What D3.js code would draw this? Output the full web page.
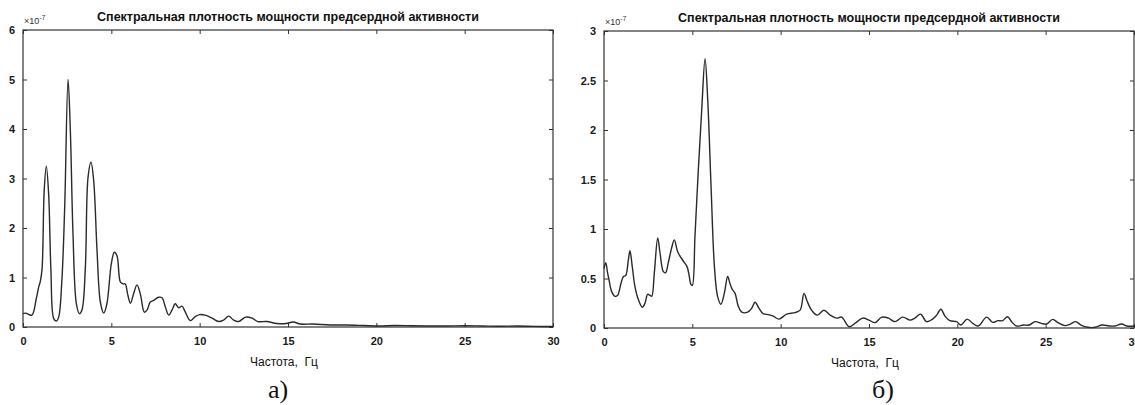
<!DOCTYPE html>
<html>
<head>
<meta charset="utf-8">
<script src="https://cdn.jsdelivr.net/npm/d3@7"></script>
<style>
  body { margin: 0; background: #fff; overflow: hidden; }
</style>
</head>
<body>
<div class="canva"></div>
<script>
// left spectrum (а)
const leftFreq = [0, 0.15, 0.5, 0.75, 0.89, 0.98, 1.08, 1.2, 1.32, 1.45, 1.58, 1.74, 1.89, 2.02, 2.2, 2.36, 2.55, 2.68, 2.83, 3.02, 3.19, 3.34, 3.53, 3.68, 3.85, 4.0, 4.19, 4.38, 4.57, 4.75, 5.0, 5.17, 5.32, 5.51, 5.66, 5.79, 5.92, 6.08, 6.26, 6.45, 6.64, 6.87, 7.02, 7.2, 7.4, 7.68, 7.87, 8.06, 8.25, 8.43, 8.62, 8.81, 9.0, 9.19, 9.47, 9.75, 10.0, 10.3, 10.7, 11.07, 11.35, 11.64, 11.92, 12.2, 12.6, 12.96, 13.3, 13.8, 14.37, 14.9, 15.3, 15.7, 16.4, 17.4, 18.3, 19.3, 20.2, 21.0, 22.0, 23.0, 24.0, 25.0, 26.0, 27.0, 28.0, 29.0, 30.0];
const leftPower = [0.27, 0.28, 0.24, 0.57, 0.81, 0.92, 1.18, 2.76, 3.25, 2.7, 1.15, 0.17, 0.12, 0.2, 0.94, 2.42, 5.0, 3.97, 1.88, 0.47, 0.27, 0.35, 1.21, 3.02, 3.33, 2.96, 1.55, 0.5, 0.28, 0.47, 1.28, 1.51, 1.44, 0.91, 0.87, 0.87, 0.67, 0.48, 0.67, 0.85, 0.67, 0.3, 0.34, 0.5, 0.54, 0.6, 0.59, 0.4, 0.24, 0.34, 0.47, 0.39, 0.42, 0.3, 0.13, 0.21, 0.25, 0.24, 0.18, 0.11, 0.14, 0.22, 0.14, 0.11, 0.2, 0.18, 0.11, 0.11, 0.07, 0.07, 0.1, 0.06, 0.06, 0.04, 0.04, 0.03, 0.02, 0.03, 0.025, 0.02, 0.02, 0.025, 0.02, 0.015, 0.02, 0.012, 0.01];

// right spectrum (б)
const rightFreq = [0, 0.1, 0.2, 0.28, 0.43, 0.62, 0.77, 0.96, 1.1, 1.23, 1.38, 1.47, 1.6, 1.75, 1.94, 2.17, 2.32, 2.47, 2.6, 2.7, 2.85, 3.04, 3.17, 3.36, 3.49, 3.64, 3.83, 3.98, 4.17, 4.36, 4.55, 4.7, 4.81, 4.92, 5.0, 5.15, 5.34, 5.53, 5.72, 5.87, 6.06, 6.25, 6.43, 6.62, 6.81, 7.0, 7.13, 7.26, 7.42, 7.6, 7.8, 8.13, 8.36, 8.55, 8.77, 9.0, 9.3, 9.58, 9.9, 10.34, 10.81, 11.1, 11.32, 11.5, 11.75, 12.07, 12.45, 12.8, 13.17, 13.45, 13.88, 14.26, 14.64, 15.0, 15.34, 15.72, 16.1, 16.47, 16.9, 17.33, 17.6, 17.92, 18.26, 18.6, 18.83, 19.07, 19.3, 19.58, 19.96, 20.2, 20.56, 20.87, 21.18, 21.66, 22.0, 22.3, 22.56, 22.84, 23.07, 23.35, 23.73, 24.07, 24.4, 24.77, 25.05, 25.4, 25.7, 26.1, 26.4, 26.7, 27.0, 27.4, 27.8, 28.2, 28.6, 28.9, 29.3, 29.6, 30.0];
const rightPower = [0.6, 0.66, 0.56, 0.49, 0.37, 0.32, 0.33, 0.45, 0.52, 0.53, 0.69, 0.78, 0.62, 0.42, 0.29, 0.21, 0.25, 0.34, 0.33, 0.32, 0.56, 0.91, 0.76, 0.57, 0.56, 0.66, 0.81, 0.89, 0.77, 0.71, 0.66, 0.62, 0.54, 0.44, 0.43, 0.93, 1.6, 2.2, 2.72, 2.31, 1.43, 0.62, 0.32, 0.24, 0.35, 0.52, 0.45, 0.39, 0.35, 0.22, 0.16, 0.16, 0.2, 0.26, 0.2, 0.145, 0.135, 0.12, 0.09, 0.14, 0.155, 0.18, 0.35, 0.27, 0.18, 0.13, 0.18, 0.13, 0.1, 0.11, 0.013, 0.054, 0.1, 0.08, 0.054, 0.11, 0.1, 0.064, 0.11, 0.08, 0.1, 0.14, 0.064, 0.09, 0.13, 0.19, 0.12, 0.074, 0.064, 0.03, 0.09, 0.047, 0.02, 0.11, 0.057, 0.074, 0.074, 0.114, 0.064, 0.02, 0.03, 0.03, 0.064, 0.047, 0.04, 0.087, 0.054, 0.024, 0.04, 0.064, 0.03, 0.007, 0.007, 0.03, 0.02, 0.02, 0.04, 0.02, 0.02];

const xTicks = [0, 5, 10, 15, 20, 25, 30];
const leftYTicks = [0, 1, 2, 3, 4, 5, 6];
const rightYTicks = [0, 0.5, 1, 1.5, 2, 2.5, 3];
const chartTitle = "Спектральная плотность мощности предсердной активности";
const xTitle = "Частота,  Гц";

const svg = d3.select(".canva").append("svg")
            .attr("width", 1135)
            .attr("height", 405);

function drawPanel(opt) {
  const w = opt.right - opt.left;
  const h = opt.bottom - opt.top;
  const g = svg.append("g").attr("transform", `translate(${opt.left}, ${opt.top})`);

  const x = d3.scaleLinear().domain([0, 30]).range([0, w]);
  const y = d3.scaleLinear().domain([0, opt.yMax]).range([h, 0]);

  // axes with inward ticks, all four sides
  g.append("g")
   .attr("transform", `translate(0, ${h})`)
   .call(d3.axisBottom(x).tickValues(xTicks).tickSizeInner(-4).tickSizeOuter(0).tickPadding(10).tickFormat(d3.format("d")));
  g.append("g")
   .call(d3.axisTop(x).tickValues(xTicks).tickSizeInner(-4).tickSizeOuter(0).tickFormat(""));
  g.append("g")
   .call(d3.axisLeft(y).tickValues(opt.yTicks).tickSizeInner(-4).tickSizeOuter(0).tickPadding(8).tickFormat(d => d));
  g.append("g")
   .attr("transform", `translate(${w}, 0)`)
   .call(d3.axisRight(y).tickValues(opt.yTicks).tickSizeInner(-4).tickSizeOuter(0).tickFormat(""));
  g.selectAll(".domain").remove();
  g.selectAll(".tick line").attr("stroke", "#333");
  g.selectAll(".tick text")
   .style("font-family", "Liberation Sans, Arial, sans-serif")
   .style("font-weight", "bold").style("font-size", "11px")
   .attr("fill", "#1a1a1a");

  // box
  g.append("rect")
   .attr("width", w).attr("height", h)
   .attr("fill", "none").attr("stroke", "#333").attr("stroke-width", 1.2);

  // curve
  const line = d3.line()
    .x((d, i) => x(opt.freq[i]))
    .y(d => y(d))
    .curve(d3.curveCatmullRom.alpha(0.5));
  g.append("path")
   .datum(opt.power)
   .attr("d", line)
   .attr("fill", "none")
   .attr("stroke", "#2a2a2a")
   .attr("stroke-width", 1.4);

  // exponent label
  const ex = g.append("text")
   .attr("x", 1).attr("y", -6)
   .style("font-family", "Liberation Sans, Arial, sans-serif")
   .style("font-size", "9px").attr("fill", "#333");
  ex.append("tspan").text("\u00d710");
  ex.append("tspan").attr("dy", -4).style("font-size", "7px").text("-7");

  // title
  g.append("text")
   .attr("x", w / 2).attr("y", -9)
   .attr("text-anchor", "middle")
   .style("font-family", "Liberation Sans, Arial, sans-serif")
   .style("font-weight", "bold").style("font-size", "12.5px")
   .attr("fill", "#111")
   .text(chartTitle);

  // x label
  g.append("text")
   .attr("x", w / 2 - 4).attr("y", h + 39)
   .attr("text-anchor", "middle")
   .style("font-family", "Liberation Sans, Arial, sans-serif")
   .style("font-size", "12px").attr("fill", "#111")
   .style("white-space", "pre")
   .text(xTitle);

  // panel letter
  svg.append("text")
   .attr("x", opt.letterX).attr("y", 398)
   .attr("text-anchor", "middle")
   .style("font-family", "Liberation Serif, Times New Roman, serif")
   .style("font-size", "26px").attr("fill", "#111")
   .text(opt.letter);
}

drawPanel({left: 23, right: 553, top: 30, bottom: 327, yMax: 6, yTicks: leftYTicks,
           freq: leftFreq, power: leftPower, letter: "а)", letterX: 278});
drawPanel({left: 604, right: 1134, top: 31, bottom: 328, yMax: 3, yTicks: rightYTicks,
           freq: rightFreq, power: rightPower, letter: "б)", letterX: 883});
</script>
</body>
</html>
